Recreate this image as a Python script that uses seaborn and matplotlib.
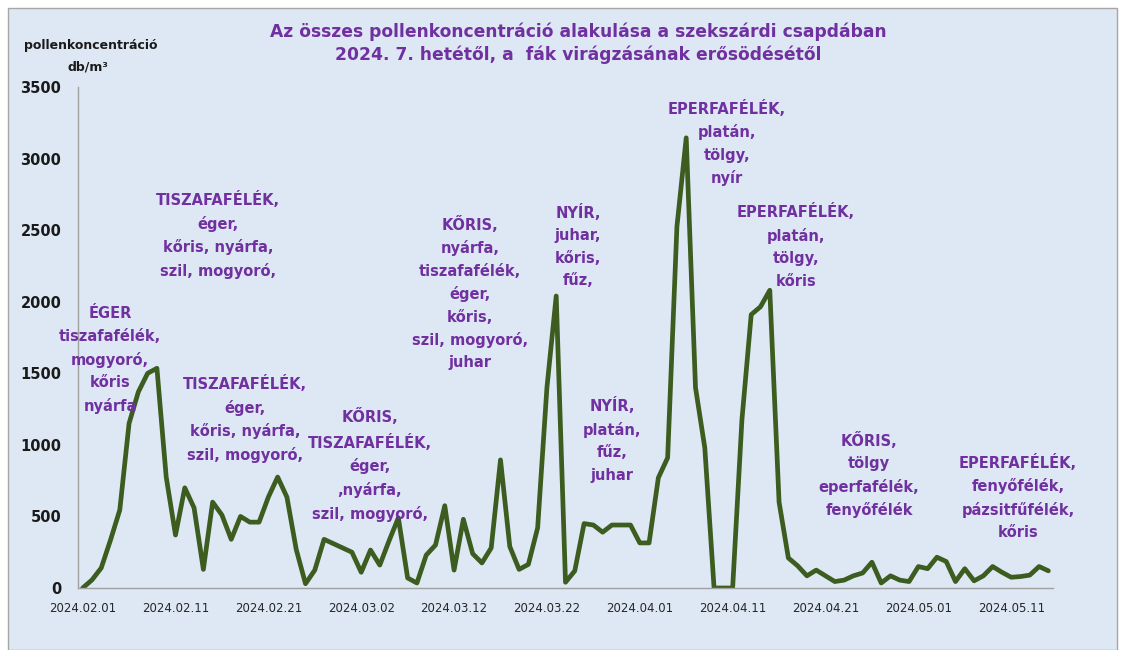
import matplotlib
matplotlib.use('Agg')
import pandas as pd
import matplotlib.pyplot as plt
import seaborn as sns
from matplotlib.patches import Rectangle

# napi pollenkoncentráció (db/m3), 2024.02.01-től
values = [0, 56, 140, 335, 545, 1150, 1370, 1500, 1535, 775,
          370, 700, 560, 130, 600, 510, 340, 500, 460, 460,
          635, 775, 635, 270, 30, 125, 340, 310, 280, 250,
          110, 265, 160, 330, 490, 70, 35, 230, 300, 575,
          125, 480, 240, 175, 280, 895, 290, 130, 165, 420,
          1400, 2040, 40, 120, 450, 440, 390, 440, 440, 440,
          315, 315, 770, 910, 2525, 3145, 1400, 980, 0, 0,
          0, 1175, 1910, 1965, 2080, 600, 210, 155, 85, 125,
          85, 45, 55, 85, 105, 180, 35, 85, 55, 45,
          150, 135, 215, 185, 45, 135, 50, 85, 150, 110,
          75, 80, 90, 150, 120]
dates = pd.date_range('2024-02-01', periods=len(values), freq='D')

tick_labels = ['2024.02.01', '2024.02.11', '2024.02.21', '2024.03.02', '2024.03.12',
               '2024.03.22', '2024.04.01', '2024.04.11', '2024.04.21', '2024.05.01',
               '2024.05.11']
y_ticks = [0, 500, 1000, 1500, 2000, 2500, 3000, 3500]

title_lines = ['Az összes pollenkoncentráció alakulása a szekszárdi csapdában',
               '2024. 7. hetétől, a  fák virágzásának erősödésétől']

notes = ['ÉGER\ntiszafafélék,\nmogyoró,\nkőris\nnyárfa',
         'TISZAFAFÉLÉK,\néger,\nkőris, nyárfa,\nszil, mogyoró,',
         'TISZAFAFÉLÉK,\néger,\nkőris, nyárfa,\nszil, mogyoró,',
         'KŐRIS,\nTISZAFAFÉLÉK,\néger,\n,nyárfa,\nszil, mogyoró,',
         'KŐRIS,\nnyárfa,\ntiszafafélék,\néger,\nkőris,\nszil, mogyoró,\njuhar',
         'NYÍR,\njuhar,\nkőris,\nfűz,',
         'NYÍR,\nplatán,\nfűz,\njuhar',
         'EPERFAFÉLÉK,\nplatán,\ntölgy,\nnyír',
         'EPERFAFÉLÉK,\nplatán,\ntölgy,\nkőris',
         'KŐRIS,\ntölgy\neperfafélék,\nfenyőfélék',
         'EPERFAFÉLÉK,\nfenyőfélék,\npázsitfűfélék,\nkőris']
# szövegdobozok közepe pixelben (x, y felülről)
note_pos = [(110, 360), (218, 235), (245, 419), (370, 465), (470, 293), (578, 246),
            (612, 440), (727, 143), (796, 246), (869, 475), (1018, 497)]

sns.set_style('white')
plt.rcParams['font.family'] = ['DejaVu Sans']

W, H = 1121, 650
fig = plt.figure(figsize=(W / 100, H / 100), dpi=100)
fig.patches.append(Rectangle((8 / W, 0), (1117 - 8) / W, (H - 8) / H, transform=fig.transFigure,
                             facecolor='#DEE8F4', edgecolor='#A6A6A6', linewidth=1, zorder=-10))

ax = fig.add_axes([78 / W, 1 - 588 / H, (1053 - 78) / W, (588 - 87) / H])
ax.set_facecolor('none')
sns.lineplot(x=dates, y=values, ax=ax, color='#3D5C1F', linewidth=3.4)

ax.set_ylim(0, 3500)
ax.set_yticks(y_ticks)
ax.set_yticklabels([str(v) for v in y_ticks], fontsize=10.5, fontweight='bold', color='#1A1A1A')
ax.set_xlim(dates[0] - pd.Timedelta(hours=12), dates[-1] + pd.Timedelta(hours=12))
ax.set_xticks(pd.to_datetime(tick_labels, format='%Y.%m.%d'))
ax.set_xticklabels(tick_labels, fontsize=8.5, color='#262626')
ax.tick_params(axis='y', length=0, pad=12)
ax.tick_params(axis='x', length=0, pad=10)
ax.set_xlabel('')
ax.set_ylabel('')
for side in ['top', 'right']:
    ax.spines[side].set_visible(False)
for side in ['left', 'bottom']:
    ax.spines[side].set_color('#A0A0A0')
    ax.spines[side].set_linewidth(1)

fig.text(578 / W, 1 - 43.5 / H, '\n'.join(title_lines), ha='center', va='center',
         fontsize=12.3, fontweight='bold', color='#7030A0', linespacing=1.3)
fig.text(91 / W, 1 - 45 / H, 'pollenkoncentráció', ha='center', va='center',
         fontsize=9, fontweight='bold', color='#1A1A1A')
fig.text(88 / W, 1 - 67 / H, 'db/m³', ha='center', va='center',
         fontsize=9, fontweight='bold', color='#1A1A1A')

for txt, (px, py) in zip(notes, note_pos):
    fig.text(px / W, 1 - py / H, txt, ha='center', va='center', multialignment='center',
             fontsize=10.5, fontweight='bold', color='#7030A0', linespacing=1.6)

fig.savefig('out.png', dpi=100)
